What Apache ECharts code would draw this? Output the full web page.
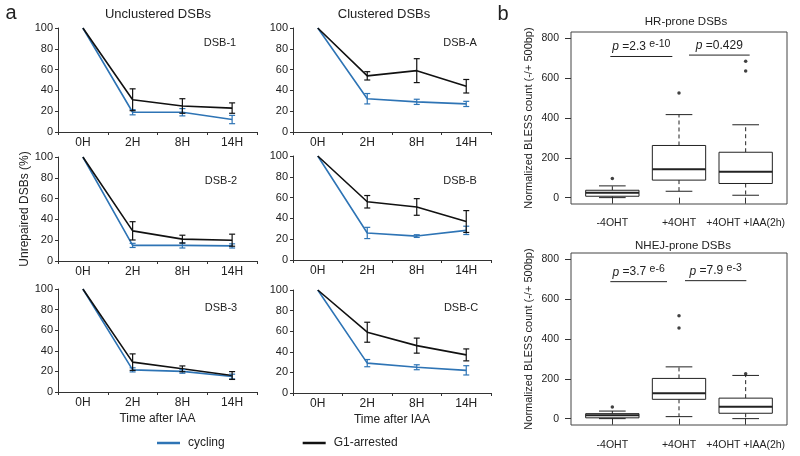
<!DOCTYPE html>
<html><head><meta charset="utf-8">
<script src="https://cdn.jsdelivr.net/npm/echarts@6/dist/echarts.min.js"></script>
<style>html,body{margin:0;padding:0;background:#fff}#c{width:800px;height:456px}</style>
</head><body><div id="c"></div>
<script>
// ---------- Panel a data ----------
const timeLabels = ['0H', '2H', '8H', '14H'];
const panelNames = ['DSB-1', 'DSB-A', 'DSB-2', 'DSB-B', 'DSB-3', 'DSB-C'];

const dsb1Cycling = [100, 19, 19, 12];
const dsb1CyclingErr = [0, 2.5, 3.5, 4];
const dsb1G1 = [100, 31, 25, 23];
const dsb1G1Err = [0, 10.5, 7, 5];

const dsbACycling = [100, 32, 29, 27];
const dsbACyclingErr = [0, 5, 2.5, 2.5];
const dsbAG1 = [100, 54, 59, 44];
const dsbAG1Err = [0, 4, 11.5, 6.5];

const dsb2Cycling = [100, 15, 15, 14.5];
const dsb2CyclingErr = [0, 2, 2.5, 2];
const dsb2G1 = [100, 29, 21, 20];
const dsb2G1Err = [0, 8.8, 3.8, 5.8];

const dsbBCycling = [100, 26, 23, 28.5];
const dsbBCyclingErr = [0, 5.4, 1.3, 4];
const dsbBG1 = [100, 56, 51, 37];
const dsbBG1Err = [0, 6, 8, 10.5];

const dsb3Cycling = [100, 21.5, 20, 15];
const dsb3CyclingErr = [0, 2, 1.8, 2.3];
const dsb3G1 = [100, 29, 22.5, 16];
const dsb3G1Err = [0, 8, 2.8, 3.8];

const dsbCCycling = [100, 29, 25, 22];
const dsbCCyclingErr = [0, 3.5, 2.4, 4.5];
const dsbCG1 = [100, 59, 46, 37];
const dsbCG1Err = [0, 9.7, 7.3, 5.8];

// ---------- Panel b data ----------
const boxCategories = ['-4OHT', '+4OHT', '+4OHT +IAA(2h)'];
const bTicks = [0, 200, 400, 600, 800];
// [low whisker, Q1, median, Q3, high whisker]
const hrBoxes = [[0, 7, 24, 37, 59], [32, 88, 142, 262, 417], [12, 71, 130, 228, 366]];
const hrOutliers = [[1, 96], [2, 525], [3, 685], [3, 636]];
const nhejBoxes = [[0, 4, 17, 25, 38], [10, 97, 127, 202, 260], [0, 27, 60, 103, 217]];
const nhejOutliers = [[1, 58], [2, 517], [2, 455], [3, 225]];
// [x start, x end, y]
const hrSigBars = [[0.97, 1.9, 709], [2.15, 3.06, 716]];
const hrPValues = [['2.3', 'e-10'], ['0.429', '']];
const nhejSigBars = [[0.97, 1.82, 688], [2.09, 3.01, 693]];
const nhejPValues = [['3.7', 'e-6'], ['7.9', 'e-3']];

// ---------- build ----------
const FONT = 'Liberation Sans, Arial, sans-serif';
const BLUE = '#2e74b5';
const BLACK = '#111111';
const AX = '#333';

const panels = [
  [dsb1Cycling, dsb1CyclingErr, dsb1G1, dsb1G1Err],
  [dsbACycling, dsbACyclingErr, dsbAG1, dsbAG1Err],
  [dsb2Cycling, dsb2CyclingErr, dsb2G1, dsb2G1Err],
  [dsbBCycling, dsbBCyclingErr, dsbBG1, dsbBG1Err],
  [dsb3Cycling, dsb3CyclingErr, dsb3G1, dsb3G1Err],
  [dsbCCycling, dsbCCyclingErr, dsbCG1, dsbCG1Err]
];

const lineGridPos = [
  {left: 58, top: 28, width: 199, height: 104},
  {left: 293, top: 28, width: 198, height: 104},
  {left: 58, top: 157, width: 199, height: 104},
  {left: 293, top: 156, width: 198, height: 104},
  {left: 58, top: 289, width: 199, height: 103},
  {left: 293, top: 290, width: 198, height: 103}
];
const labelPos = [[220, 43], [460, 43], [221, 181], [460, 181], [221, 308], [461, 308]];

const grids = [], xAxes = [], yAxes = [], series = [];

function errRender(color) {
  return function (params, api) {
    const i = api.value(0), m = api.value(1), e = api.value(2);
    if (!e) return null;
    const t = api.coord([i, m + e]), b = api.coord([i, m - e]);
    const w = 3;
    const st = {stroke: color, lineWidth: 1.2};
    return {type: 'group', children: [
      {type: 'line', shape: {x1: t[0], y1: t[1], x2: b[0], y2: b[1]}, style: st},
      {type: 'line', shape: {x1: t[0] - w, y1: t[1], x2: t[0] + w, y2: t[1]}, style: st},
      {type: 'line', shape: {x1: b[0] - w, y1: b[1], x2: b[0] + w, y2: b[1]}, style: st}
    ]};
  };
}

panels.forEach((p, k) => {
  grids.push(Object.assign({containLabel: false}, lineGridPos[k]));
  const isBottom = k >= 4;
  xAxes.push({
    gridIndex: k, type: 'category', data: timeLabels, boundaryGap: true,
    axisLine: {show: true, lineStyle: {color: AX, width: 1}},
    axisTick: {show: true, length: 3, lineStyle: {color: AX}},
    axisLabel: {fontSize: 12, color: '#222', margin: 5, fontFamily: FONT},
    splitLine: {show: false},
    name: isBottom ? 'Time after IAA' : '', nameLocation: 'middle', nameGap: 21,
    nameTextStyle: {fontSize: 12, color: '#222', fontFamily: FONT}
  });
  yAxes.push({
    gridIndex: k, type: 'value', min: 0, max: 100, interval: 20,
    axisLine: {show: true, lineStyle: {color: AX, width: 1}},
    axisTick: {show: true, length: 3, lineStyle: {color: AX}},
    axisLabel: {fontSize: 11, color: '#222', margin: 5, fontFamily: FONT},
    splitLine: {show: false},
    name: k === 2 ? 'Unrepaired DSBs (%)' : '', nameLocation: 'middle', nameGap: 26, nameRotate: 90,
    nameTextStyle: {fontSize: 12, color: '#222', fontFamily: FONT}
  });
  const [cyc, cycErr, g1, g1Err] = p;
  series.push({
    type: 'line', name: 'cycling', xAxisIndex: k, yAxisIndex: k, data: cyc,
    symbol: 'none', showSymbol: false, lineStyle: {color: BLUE, width: 1.6}, itemStyle: {color: BLUE}, z: 2
  });
  series.push({
    type: 'line', name: 'G1-arrested', xAxisIndex: k, yAxisIndex: k, data: g1,
    symbol: 'none', showSymbol: false, lineStyle: {color: BLACK, width: 1.6}, itemStyle: {color: BLACK}, z: 3
  });
  series.push({
    type: 'custom', xAxisIndex: k, yAxisIndex: k, renderItem: errRender(BLUE), z: 4,
    data: cyc.map((v, i) => [i, v, cycErr[i]])
  });
  series.push({
    type: 'custom', xAxisIndex: k, yAxisIndex: k, renderItem: errRender(BLACK), z: 5,
    data: g1.map((v, i) => [i, v, g1Err[i]])
  });
});

// ---------- box panels ----------
function boxRender(params, api) {
  const x = api.value(0);
  const lo = api.value(1), q1 = api.value(2), med = api.value(3), q3 = api.value(4), hi = api.value(5);
  const half = api.size([0.8, 0])[0] / 2;
  const cap = api.size([0.4, 0])[0] / 2;
  const c = api.coord([x, med])[0];
  const y = v => api.coord([x, v])[1];
  const solid = {stroke: '#222', lineWidth: 1};
  const dashed = {stroke: '#222', lineWidth: 1, lineDash: [4, 3]};
  return {type: 'group', children: [
    {type: 'line', shape: {x1: c, y1: y(q3), x2: c, y2: y(hi)}, style: dashed},
    {type: 'line', shape: {x1: c, y1: y(q1), x2: c, y2: y(lo)}, style: dashed},
    {type: 'line', shape: {x1: c - cap, y1: y(hi), x2: c + cap, y2: y(hi)}, style: solid},
    {type: 'line', shape: {x1: c - cap, y1: y(lo), x2: c + cap, y2: y(lo)}, style: solid},
    {type: 'rect', shape: {x: c - half, y: y(q3), width: 2 * half, height: y(q1) - y(q3)},
      style: {stroke: '#222', fill: '#fff', lineWidth: 1}},
    {type: 'line', shape: {x1: c - half, y1: y(med), x2: c + half, y2: y(med)}, style: {stroke: '#222', lineWidth: 2}}
  ]};
}
function sigRender(pvals) {
  return function (params, api) {
    const x1 = api.value(0), x2 = api.value(1), yv = api.value(2);
    const a = api.coord([x1, yv]), b = api.coord([x2, yv]);
    const pv = pvals[params.dataIndex];
    const txt = '{p|p}{n| =' + pv[0] + '}' + (pv[1] ? '{n| }{s|' + pv[1] + '}' : '');
    return {type: 'group', children: [
      {type: 'line', shape: {x1: a[0], y1: a[1], x2: b[0], y2: b[1]}, style: {stroke: '#222', lineWidth: 1}},
      {type: 'text', x: (a[0] + b[0]) / 2, y: a[1] - 1, style: {
        text: txt, align: 'center', verticalAlign: 'bottom', fill: '#222',
        rich: {
          p: {fontSize: 12, fontStyle: 'italic', fontFamily: FONT, lineHeight: 17, verticalAlign: 'middle', fill: '#222'},
          n: {fontSize: 12, fontFamily: FONT, lineHeight: 17, verticalAlign: 'middle', fill: '#222'},
          s: {fontSize: 10.5, fontFamily: FONT, verticalAlign: 'top', fill: '#222'}
        }
      }}
    ]};
  };
}

const boxPanels = [
  {pos: {left: 571, top: 32, width: 216, height: 172}, boxes: hrBoxes, out: hrOutliers, sig: hrSigBars, pv: hrPValues, lm: 14},
  {pos: {left: 571, top: 253, width: 216, height: 172}, boxes: nhejBoxes, out: nhejOutliers, sig: nhejSigBars, pv: nhejPValues, lm: 15}
];
boxPanels.forEach((bp, j) => {
  const gi = 6 + j;
  grids.push(Object.assign({containLabel: false, show: true, borderColor: '#444', borderWidth: 1, backgroundColor: 'transparent'}, bp.pos));
  xAxes.push({
    gridIndex: gi, type: 'value', min: 0.38, max: 3.62,
    axisLine: {show: false},
    axisTick: {show: true, length: 6, customValues: [1, 2, 3], lineStyle: {color: '#333'}},
    axisLabel: {customValues: [1, 2, 3], formatter: v => boxCategories[Math.round(v) - 1],
      fontSize: 10.5, color: '#222', margin: bp.lm, fontFamily: FONT},
    splitLine: {show: false}
  });
  yAxes.push({
    gridIndex: gi, type: 'value', min: -32, max: 832,
    axisLine: {show: false},
    axisTick: {show: true, length: 6, customValues: bTicks, lineStyle: {color: '#333'}},
    axisLabel: {customValues: bTicks, fontSize: 10.5, color: '#222', margin: 12, fontFamily: FONT},
    splitLine: {show: false},
    name: 'Normalized BLESS count (-/+ 500bp)', nameLocation: 'middle', nameGap: 37, nameRotate: 90,
    nameTextStyle: {fontSize: 11, color: '#222', fontFamily: FONT}
  });
  series.push({
    type: 'custom', xAxisIndex: gi, yAxisIndex: gi, renderItem: boxRender,
    encode: {x: 0, y: [1, 2, 3, 4, 5]},
    data: bp.boxes.map((b, i) => [i + 1].concat(b))
  });
  series.push({
    type: 'scatter', xAxisIndex: gi, yAxisIndex: gi, data: bp.out, symbolSize: 3.5,
    itemStyle: {color: '#111'}, silent: true
  });
  series.push({
    type: 'custom', xAxisIndex: gi, yAxisIndex: gi, renderItem: sigRender(bp.pv),
    encode: {x: [0, 1], y: 2}, data: bp.sig
  });
});

const texts = [
  {t: 'a', x: 11, y: 13, s: 20},
  {t: 'Unclustered DSBs', x: 158, y: 14, s: 13},
  {t: 'Clustered DSBs', x: 384, y: 14, s: 13},
  {t: 'b', x: 503, y: 14, s: 20},
  {t: 'HR-prone DSBs', x: 686, y: 22, s: 11.5},
  {t: 'NHEJ-prone DSBs', x: 683, y: 246, s: 11.5}
].concat(panelNames.map((n, i) => ({t: n, x: labelPos[i][0], y: labelPos[i][1], s: 11})));

const option = {
  animation: false,
  backgroundColor: '#fff',
  textStyle: {fontFamily: FONT},
  grid: grids, xAxis: xAxes, yAxis: yAxes, series: series,
  legend: {
    data: [{name: 'cycling', icon: 'rect'}, {name: 'G1-arrested', icon: 'rect'}],
    left: 152, top: 432, itemWidth: 23, itemHeight: 2.5, itemGap: 78,
    textStyle: {fontSize: 12, color: '#222', fontFamily: FONT, padding: [0, 0, 0, 3]}
  },
  graphic: texts.map(o => ({
    type: 'text', x: o.x, y: o.y, silent: true,
    style: {text: o.t, fontSize: o.s, fontFamily: FONT, fill: '#222', align: 'center', verticalAlign: 'middle'}
  }))
};

const chart = echarts.init(document.getElementById('c'), null, {renderer: 'canvas'});
chart.setOption(option);
</script>
</body></html>
